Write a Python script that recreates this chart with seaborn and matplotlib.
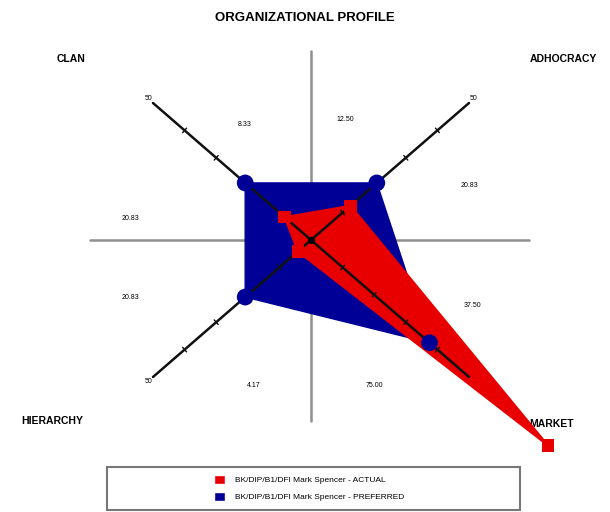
import numpy as np
import pandas as pd
import seaborn as sns
import matplotlib.pyplot as plt
from matplotlib.patches import Patch, Rectangle

# Data
quadrants = ['CLAN', 'ADHOCRACY', 'MARKET', 'HIERARCHY']
actual = [8.33, 12.50, 75.00, 4.17]
preferred = [20.83, 20.83, 37.50, 20.83]
series_labels = ['BK/DIP/B1/DFI Mark Spencer - ACTUAL',
                 'BK/DIP/B1/DFI Mark Spencer - PREFERRED']
axis_max = 50
axis_ticks = [10, 20, 30, 40]

# Layout: direction of each quadrant axis, label spots (data units)
dirs = {'CLAN': (-1, 1), 'ADHOCRACY': (1, 1), 'MARKET': (1, -1), 'HIERARCHY': (-1, -1)}
corner_pos = {'CLAN': (-76, 66), 'ADHOCRACY': (80, 66), 'MARKET': (76, -67), 'HIERARCHY': (-82, -66)}
actual_pos = {'CLAN': (-21, 42), 'ADHOCRACY': (11, 44), 'MARKET': (20, -53), 'HIERARCHY': (-18, -53)}
pref_pos = {'CLAN': (-57, 8), 'ADHOCRACY': (50, 20), 'MARKET': (51, -24), 'HIERARCHY': (-57, -21)}
red, blue = '#E80000', '#000096'
sx, sy = 3.16, 2.74  # pixels per unit

rows = []
for name, vals in [('ACTUAL', actual), ('PREFERRED', preferred)]:
    for q, v in zip(quadrants, vals):
        dx, dy = dirs[q]
        rows.append({'series': name, 'quadrant': q, 'u': dx * v, 'v': dy * v})
df = pd.DataFrame(rows)

sns.set_theme(style="white")
plt.rcParams['font.family'] = ['Liberation Sans', 'DejaVu Sans']
plt.rcParams['text.color'] = 'black'

fig = plt.figure(figsize=(6.1, 5.12), dpi=100)
ax = fig.add_axes([0, 0, 1, 1])
ax.set_xlim(-311 / sx, (610 - 311) / sx)
ax.set_ylim(-(512 - 240) / sy, 240 / sy)
ax.axis('off')

# gray cross
ax.plot([-70, 69], [0, 0], color='#8f8f8f', lw=1.8, zorder=1)
ax.plot([0, 0], [-66, 69], color='#8f8f8f', lw=1.8, zorder=1)

# filled profiles
pref = df[df.series == 'PREFERRED']
act = df[df.series == 'ACTUAL']
ax.fill(pref.u, pref.v, color=blue, lw=1, zorder=2)
ax.fill(act.u, act.v, color=red, lw=1.5, zorder=4)

# diagonal axes with ticks
for q in quadrants:
    dx, dy = dirs[q]
    ax.plot([0, dx * axis_max], [0, dy * axis_max], color='#111111', lw=1.8, zorder=5)
    px, py = dx * sx, dy * sy
    nx, ny = -py, px
    n = np.hypot(nx, ny)
    nx, ny = nx / n * 3 / sx, ny / n * 3 / sy
    for t in axis_ticks:
        ax.plot([dx * t - nx, dx * t + nx], [dy * t - ny, dy * t + ny],
                color='#111111', lw=1, zorder=5)
    ax.text(dx * (axis_max + 1.5), dy * (axis_max + 1.5), str(axis_max),
            fontsize=5, ha='center', va='center', zorder=3)
ax.scatter([0], [0], color='black', s=18, zorder=6)

sns.scatterplot(data=df, x='u', y='v', hue='series', style='series',
                palette={'ACTUAL': red, 'PREFERRED': blue},
                markers={'ACTUAL': 's', 'PREFERRED': 'o'},
                size='series', sizes={'ACTUAL': 80, 'PREFERRED': 145},
                linewidth=0, legend=False, zorder=7, ax=ax)

# quadrant texts
for q, a, p in zip(quadrants, actual, preferred):
    ax.text(*corner_pos[q], q, fontsize=7.5, fontweight='bold', ha='center', va='center')
    ax.text(*actual_pos[q], f'{a:.2f}', fontsize=5, ha='center', va='center')
    ax.text(*pref_pos[q], f'{p:.2f}', fontsize=5, ha='center', va='center')

fig.text(305 / 610, 1 - 18 / 512, 'ORGANIZATIONAL PROFILE', fontsize=9.5,
         fontweight='heavy', ha='center', va='center')

# legend box
fig.patches.append(Rectangle((107 / 610, 2 / 512), 413 / 610, 43 / 512,
                             transform=fig.transFigure, fill=False,
                             edgecolor='#777777', lw=1.5))
handles = [Patch(facecolor=red), Patch(facecolor=blue)]
fig.legend(handles, series_labels, loc='center left',
           bbox_to_anchor=(206 / 610, 24 / 512), frameon=False, fontsize=6,
           handlelength=1.4, handleheight=1.4, labelspacing=0.9, handletextpad=1.2)

fig.savefig('out.png', dpi=100, facecolor='white')
